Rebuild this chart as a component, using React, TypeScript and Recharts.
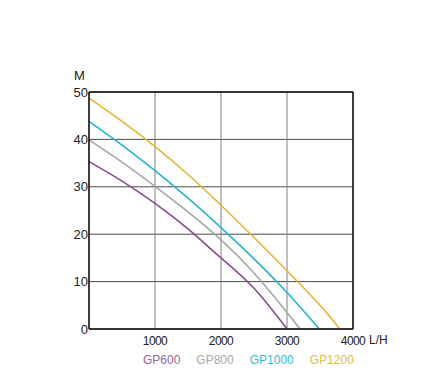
import { LineChart, Line, XAxis, YAxis, CartesianGrid, ReferenceLine } from "recharts";

// pump curves: flow (L/H) vs head (M)
const flow600 = [0, 500, 1000, 1500, 2000, 2500, 3000];
const head600 = [35.3, 31.2, 26.5, 21.1, 15.0, 8.6, 0];

const flow800 = [0, 500, 1000, 1500, 2000, 2500, 3000, 3200];
const head800 = [39.9, 35.2, 30.1, 24.7, 18.8, 11.8, 3.5, 0];

const flow1000 = [0, 500, 1000, 1500, 2000, 2500, 3000, 3490];
const head1000 = [43.8, 38.8, 33.4, 27.6, 21.4, 14.8, 7.7, 0];

const flow1200 = [0, 500, 1000, 1500, 2000, 2500, 3000, 3500, 3800];
const head1200 = [48.7, 43.8, 38.5, 32.6, 26.1, 19.3, 12.3, 5.0, 0];

const xTicks = [1000, 2000, 3000, 4000];
const yTicks = [0, 10, 20, 30, 40, 50];

const toPoints = (flows: number[], heads: number[]) =>
    flows.map((flow, i) => ({ flow, head: heads[i] }));

const series = [
    { name: "GP600", data: toPoints(flow600, head600), color: "#874a8f", text: "#9a62a2" },
    { name: "GP800", data: toPoints(flow800, head800), color: "#a6a6a6", text: "#a8a8a8" },
    { name: "GP1000", data: toPoints(flow1000, head1000), color: "#25b3d2", text: "#33bcd8" },
    { name: "GP1200", data: toPoints(flow1200, head1200), color: "#e5b437", text: "#e3bd45" },
];

const font = "'Liberation Sans', Arial, sans-serif";

export default function App() {
    return (
        <div style={{ position: "absolute", left: 0, top: 0, width: 440, height: 387, background: "#fff", fontFamily: font }}>
            <LineChart
                width={440}
                height={387}
                margin={{ top: 92, right: 87, bottom: 28, left: 0 }}
            >
                <CartesianGrid horizontal vertical={false} stroke="#4a4a4a" />
                <CartesianGrid vertical horizontal={false} stroke="#808080" />
                <XAxis
                    type="number"
                    dataKey="flow"
                    domain={[0, 4000]}
                    ticks={xTicks}
                    height={30}
                    tickLine={false}
                    tickSize={0}
                    tickMargin={7}
                    axisLine={{ stroke: "#111", strokeWidth: 1.5 }}
                    tick={{ fill: "#222", fontSize: 12, fontFamily: font, letterSpacing: -0.6 }}
                />
                <YAxis
                    type="number"
                    domain={[0, 50]}
                    ticks={yTicks}
                    width={89}
                    tickLine={false}
                    tickSize={0}
                    tickMargin={1}
                    axisLine={{ stroke: "#111", strokeWidth: 1.5 }}
                    tick={{ fill: "#222", fontSize: 13, fontFamily: font }}
                />
                <ReferenceLine y={50} stroke="#111" strokeWidth={1.5} />
                <ReferenceLine x={4000} stroke="#111" strokeWidth={1.5} />
                {series.map((s) => (
                    <Line
                        key={s.name}
                        data={s.data}
                        dataKey="head"
                        name={s.name}
                        type="natural"
                        stroke={s.color}
                        strokeWidth={1.6}
                        dot={false}
                        isAnimationActive={false}
                    />
                ))}
            </LineChart>
            <div style={{ position: "absolute", left: 74, top: 68, fontSize: 13, color: "#222" }}>M</div>
            <div style={{ position: "absolute", left: 369, top: 333, fontSize: 12, color: "#222" }}>L/H</div>
            <div style={{ position: "absolute", left: 143, top: 353, display: "flex", fontSize: 12 }}>
                {series.map((s) => (
                    <span key={s.name} style={{ color: s.text, marginRight: 16 }}>{s.name}</span>
                ))}
            </div>
        </div>
    );
}
